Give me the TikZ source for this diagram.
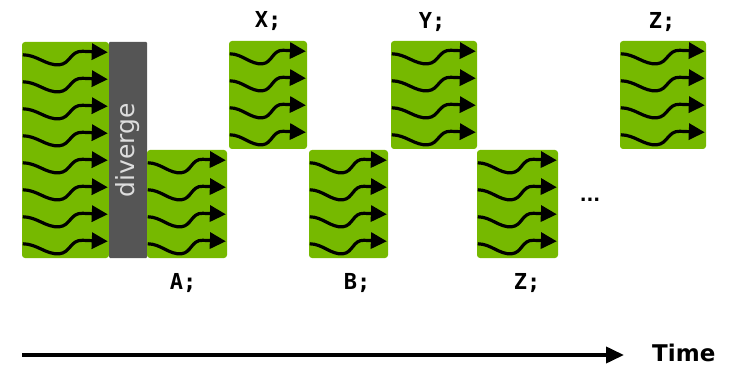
\documentclass[tikz,border=0pt]{standalone}
\usepackage{fontspec}
\setmainfont{DejaVu Sans}
\newfontfamily\codefont{DejaVu Sans Mono}
\usetikzlibrary{arrows.meta}

\definecolor{warpgreen}{HTML}{76B900}
\definecolor{bargray}{HTML}{555555}
\definecolor{bartext}{HTML}{DDDDDD}

\newcommand{\threadrows}[3]{%
  \begin{scope}[shift={(#1.north west)}, xscale=#3/86]
    \foreach \r in {1,...,#2}
      \draw[thread] (1,\r*27-14) .. controls (15,\r*27-14) and (24,\r*27-3) .. (37,\r*27-4)
        .. controls (48,\r*27-5) and (48,\r*27-18) .. (60,\r*27-17.5) -- (85,\r*27-16.5);
  \end{scope}}

\begin{document}
\begin{tikzpicture}[
    x=1pt, y=-1pt,
    block/.style={
        rectangle,
        fill=warpgreen,
        rounded corners=3pt,
        inner sep=0pt,
        minimum height=108pt
    },
    divbar/.style={
        rectangle,
        fill=bargray,
        rounded corners=1pt,
        inner sep=0pt,
        minimum width=216pt,
        minimum height=38pt,
        text=bartext,
        font=\fontsize{25}{28}\selectfont
    },
    stmt/.style={font=\codefont\bfseries\fontsize{22}{24}\selectfont, anchor=base},
    thread/.style={line width=3.2pt, -{Triangle[length=16pt,width=16pt]}},
    timeline/.style={line width=3.8pt, -{Triangle[length=18pt,width=16pt]}}
]

\useasboundingbox (0,0) rectangle (741,366);

\node[block, minimum width=87pt, minimum height=216pt] (warp) at (65.5,150) {};
\node[divbar, rotate=90] (diverge) at (128,150) {diverge};

\node[block, minimum width=80pt] (blkA) at (187,204) {};
\node[block, minimum width=78pt] (blkX) at (268,95) {};
\node[block, minimum width=79pt] (blkB) at (348.5,204) {};
\node[block, minimum width=86pt] (blkY) at (434,95) {};
\node[block, minimum width=81pt] (blkZ) at (517.5,204) {};
\node[block, minimum width=86pt] (blkZtop) at (663,95) {};

\threadrows{warp}{8}{87}
\threadrows{blkA}{4}{80}
\threadrows{blkX}{4}{78}
\threadrows{blkB}{4}{79}
\threadrows{blkY}{4}{86}
\threadrows{blkZ}{4}{81}
\threadrows{blkZtop}{4}{86}

\node[stmt] (lblX) at (268,28) {X;};
\node[stmt] (lblY) at (432,29) {Y;};
\node[stmt] (lblZtop) at (662,29) {Z;};
\node[stmt] (lblA) at (183,289) {A;};
\node[stmt] (lblB) at (357,289) {B;};
\node[stmt] (lblZ) at (527,289) {Z;};

\node[font=\bfseries\fontsize{18}{20}\selectfont, anchor=base] (dots) at (590,201) {...};
\node[font=\bfseries\fontsize{23}{26}\selectfont, anchor=base west, inner sep=0pt] (time) at (652,361) {Time};

\coordinate (t0) at (22,355);
\coordinate (t1) at (624,355);
\draw[timeline] (t0) -- (t1);

\end{tikzpicture}
\end{document}
